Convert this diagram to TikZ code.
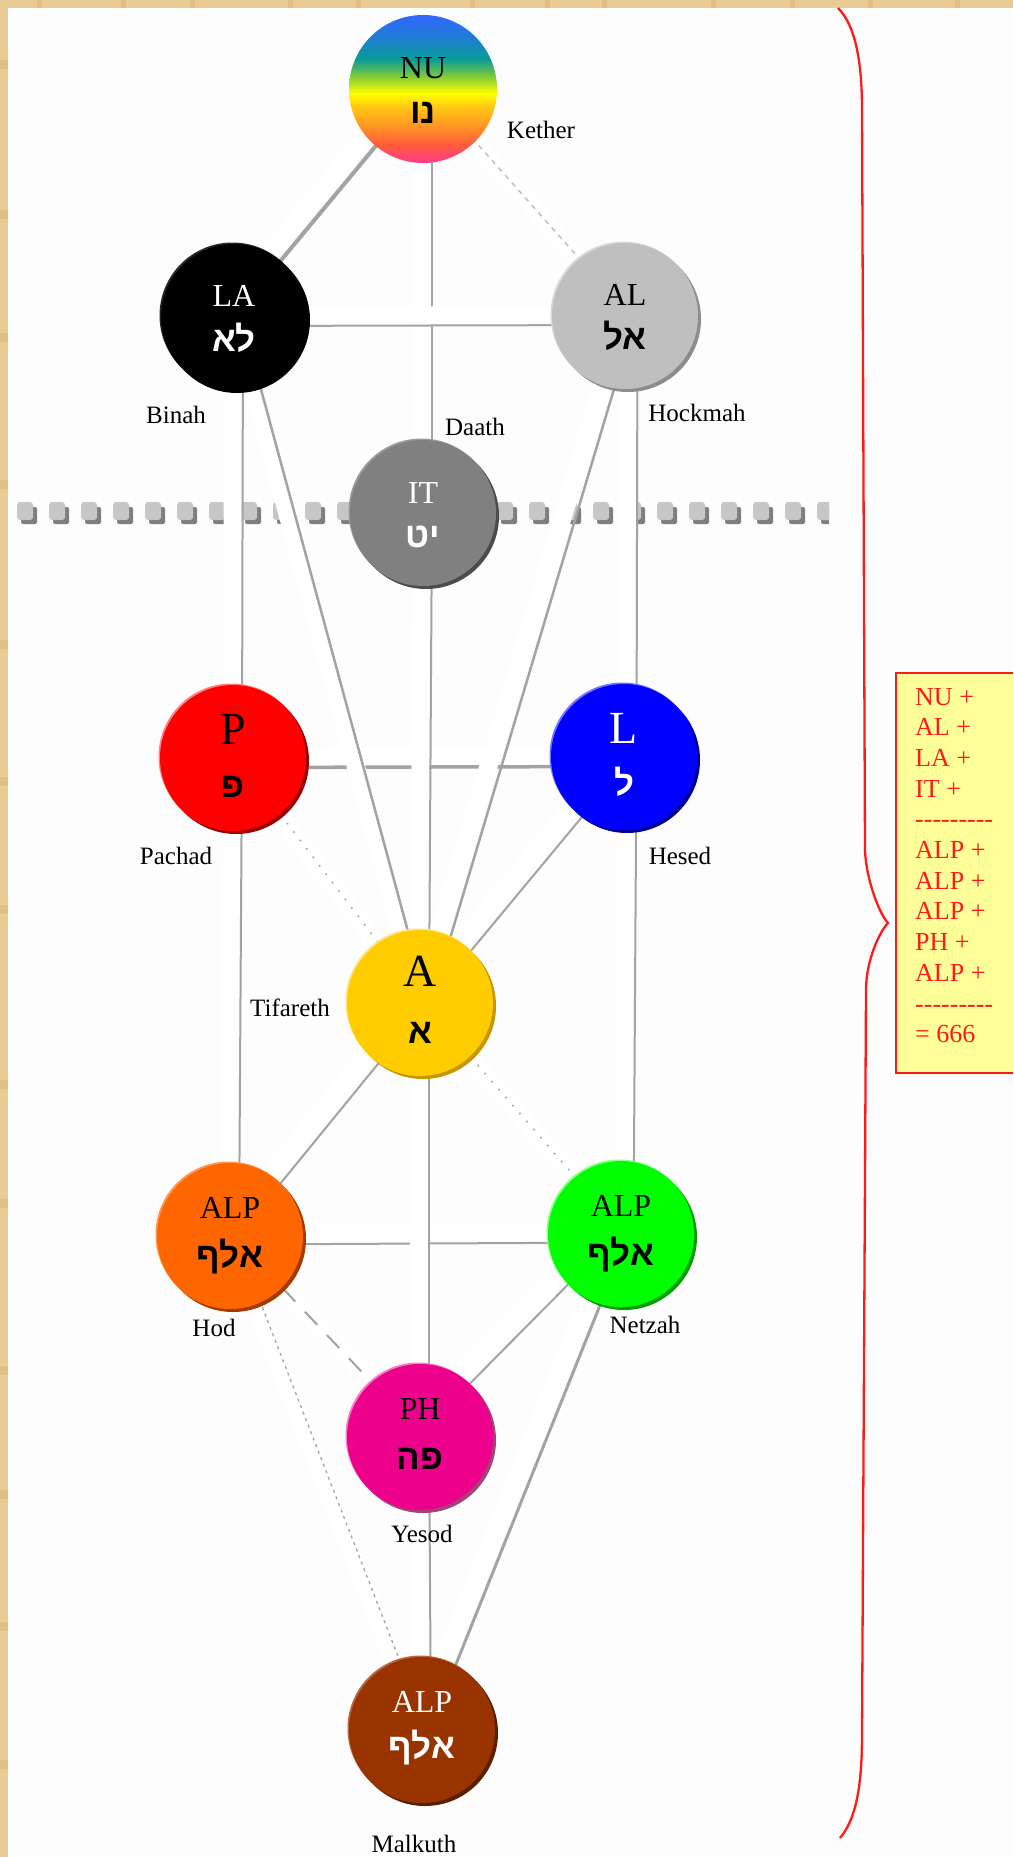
\documentclass[tikz,border=0pt]{standalone}
\usepackage{fontspec}
\setmainfont{Liberation Serif}
\newfontfamily\heb[Script=Hebrew]{Liberation Sans}
\TeXXeTstate=1
\usetikzlibrary{shadows}
\pgfdeclarelayer{bg}
\pgfsetlayers{bg,main}
\definecolor{bgc}{HTML}{FDFDFD}
\definecolor{tanc}{HTML}{E8CC94}
\definecolor{tand}{HTML}{DFC083}
\definecolor{lg}{HTML}{A3A3A3}
\definecolor{sqc}{HTML}{C6C6C6}
\definecolor{sqd}{HTML}{7E7E7E}
\definecolor{boxy}{HTML}{FFFF99}
\definecolor{rd}{HTML}{FF1A1A}
\definecolor{kpink}{HTML}{FF3C8C}
\definecolor{kred}{HTML}{FF5A3C}
\definecolor{korange}{HTML}{FF9922}
\definecolor{kyo}{HTML}{FFCC11}
\definecolor{kyellow}{HTML}{FFFF00}
\definecolor{kgreen}{HTML}{88CC33}
\definecolor{kteal}{HTML}{0A9C96}
\definecolor{kmid}{HTML}{1C7FD0}
\definecolor{kblue}{HTML}{3366FF}
\definecolor{tif}{HTML}{FFCC00}
\definecolor{tifd}{HTML}{C89600}
\definecolor{tifl}{HTML}{FFE480}
\definecolor{hodc}{HTML}{FF6600}
\definecolor{hodd}{HTML}{A33A00}
\definecolor{hodl}{HTML}{FF9955}
\definecolor{mal}{HTML}{993300}
\definecolor{mald}{HTML}{5C1E00}
\definecolor{mall}{HTML}{B86640}
\pgfdeclareverticalshading{rainbow}{100bp}{color(0bp)=(kpink); color(25bp)=(kpink); color(31bp)=(kred); color(38bp)=(korange); color(44.5bp)=(kyo); color(48.5bp)=(kyellow); color(54bp)=(kgreen); color(60bp)=(kteal); color(67bp)=(kmid); color(75bp)=(kblue); color(100bp)=(kblue)}
% \link[style]{from}{to}{canvas shift}
\newcommand\link[4][]{%
  \draw[halo, transform canvas={#4,xshift=-10pt,yshift=10pt}] (#2.center) -- (#3.center);
  \draw[conn,#1, transform canvas={#4}] (#2.center) -- (#3.center);}
\newcommand\dashrow{-{}-{}-{}-{}-{}-{}-{}-{}-}
\begin{document}
\begin{tikzpicture}[x=1pt,y=-1pt,
  sph/.style n args={3}{circle, inner sep=0pt, minimum size=146pt, fill=#1,
     general shadow={shadow xshift=3pt, shadow yshift=-3pt, fill=#2},
     general shadow={shadow xshift=-1.5pt, shadow yshift=1.5pt, fill=#3}},
  lat/.style={anchor=base, inner sep=0pt, font=\fontsize{32}{34}\selectfont},
  latb/.style={anchor=base, inner sep=0pt, font=\fontsize{46}{48}\selectfont},
  hb/.style={anchor=base, inner sep=0pt, font=\heb\bfseries\fontsize{35}{38}\selectfont},
  lab/.style={inner sep=0pt, font=\fontsize{25}{27}\selectfont},
  sumtxt/.style={anchor=base west, inner sep=0pt, text=rd, font=\fontsize{26}{28}\selectfont},
  conn/.style={draw=lg, line width=2pt},
  halo/.style={draw=white, line width=18pt},
  dotl/.style={line width=1.6pt, dash pattern=on 1.6pt off 9pt},
  dashl/.style={draw=lg!70, line width=1.5pt, dash pattern=on 5pt off 5pt}
]
\useasboundingbox (0,0) rectangle (1013,1857);
\clip (0,0) rectangle (1013,1857);

% spheres
\node[circle, inner sep=0pt, minimum size=148pt, shade, shading=rainbow] (kether) at (423,89) {};
\node[sph={black}{black}{black!85}] (binah) at (234,317) {};
\node[sph={black!25}{black!45}{black!15}] (hockmah) at (625,316) {};
\node[sph={black!50}{black!70}{black!40}] (daath) at (423,513) {};
\node[sph={red}{red!60!black}{red!50!white}] (pachad) at (233,758) {};
\node[sph={blue}{blue!60!black}{blue!55!white}] (hesed) at (624,757) {};
\node[sph={tif}{tifd}{tifl}] (tifareth) at (420,1003) {};
\node[sph={hodc}{hodd}{hodl}] (hod) at (230,1236) {};
\node[sph={green}{green!62!black}{green!45!white}] (netzah) at (621,1234) {};
\node[sph={magenta}{magenta!62!black}{magenta!50!white}] (yesod) at (420,1437) {};
\node[sph={mal}{mald}{mall}] (malkuth) at (422,1730) {};

% sphere texts
\node[lat] (ketherL) at (423,79) {NU};
\node[hb] (ketherH) at (423,124) {\beginR נו\endR};
\node[lat,text=white] (binahL) at (234,306) {LA};
\node[hb,text=white] (binahH) at (234,351) {\beginR לא\endR};
\node[lat] (hockmahL) at (625,305) {AL};
\node[hb] (hockmahH) at (625,349) {\beginR אל\endR};
\node[lat,text=white] (daathL) at (423,503) {IT};
\node[hb,text=white] (daathH) at (423,547) {\beginR יט\endR};
\node[latb] (pachadL) at (233,744) {P};
\node[hb] (pachadH) at (233,797) {\beginR פ\endR};
\node[latb,text=white] (hesedL) at (624,743) {L};
\node[hb,text=white] (hesedH) at (624,795) {\beginR ל\endR};
\node[latb] (tifarethL) at (420,986) {A};
\node[hb] (tifarethH) at (420,1043) {\beginR א\endR};
\node[lat] (hodL) at (230,1218) {ALP};
\node[hb] (hodH) at (230,1267) {\beginR אלף\endR};
\node[lat] (netzahL) at (621,1216) {ALP};
\node[hb] (netzahH) at (621,1265) {\beginR אלף\endR};
\node[lat] (yesodL) at (420,1419) {PH};
\node[hb] (yesodH) at (420,1469) {\beginR פה\endR};
\node[lat,text=white] (malkuthL) at (422,1712) {ALP};
\node[hb,text=white] (malkuthH) at (422,1758) {\beginR אלף\endR};

% names
\node[lab] (nKether) at (541,130) {Kether};
\node[lab] (nBinah) at (176,415) {Binah};
\node[lab] (nDaath) at (475,427) {Daath};
\node[lab] (nHockmah) at (697,413) {Hockmah};
\node[lab] (nPachad) at (176,856) {Pachad};
\node[lab] (nHesed) at (680,856) {Hesed};
\node[lab] (nTifareth) at (290,1008) {Tifareth};
\node[lab] (nHod) at (214,1328) {Hod};
\node[lab] (nNetzah) at (645,1325) {Netzah};
\node[lab] (nYesod) at (422,1534) {Yesod};
\node[lab] (nMalkuth) at (414,1844) {Malkuth};

% sum box and brace
\draw[rd, line width=2pt, fill=boxy] (896,673) rectangle (1030,1073);
\node[sumtxt] (s0) at (915,705) {NU +};
\node[sumtxt] (s1) at (915,735.7) {AL +};
\node[sumtxt] (s2) at (915,766.4) {LA +};
\node[sumtxt] (s3) at (915,797.1) {IT +};
\node[sumtxt] (s4) at (915,827.8) {\dashrow};
\node[sumtxt] (s5) at (915,858.5) {ALP +};
\node[sumtxt] (s6) at (915,889.2) {ALP +};
\node[sumtxt] (s7) at (915,919.9) {ALP +};
\node[sumtxt] (s8) at (915,950.6) {PH +};
\node[sumtxt] (s9) at (915,981.3) {ALP +};
\node[sumtxt] (s10) at (915,1012) {\dashrow};
\node[sumtxt] (s11) at (915,1042.7) {= 666};
\draw[rd, line width=2.3pt] (838,8) .. controls (855,25) and (862,60) .. (862,110)
  -- (865,850) .. controls (866,880) and (880,915) .. (888,923)
  .. controls (880,931) and (866,960) .. (866,990)
  -- (862,1735) .. controls (862,1790) and (855,1820) .. (840,1838);

\begin{pgfonlayer}{bg}
  \fill[bgc] (0,0) rectangle (1013,1857);
  \fill[tanc] (0,0) rectangle (1013,8);
  \fill[tanc] (0,0) rectangle (8,1857);
  \foreach \t in {37,121,190,288,356,470,545,602,711,790,868,955}{
    \fill[tand] (\t,0) rectangle ++(5,8);
  }
  \foreach \t in {60,210,333,480,640,777,905,1080,1199,1366,1490,1622,1760}{
    \fill[tand] (0,\t) rectangle ++(8,9);
  }
  \begin{scope}
    \clip (0,490) rectangle (829,540);
    \foreach \k in {0,...,25}{
      \fill[sqd, rounded corners=2pt] ({21+32*\k},507) rectangle ++(16,17);
      \fill[sqc, rounded corners=3pt] ({17+32*\k},502) rectangle ++(16,18);
    }
  \end{scope}
  \link{kether}{daath}{xshift=9pt,yshift=-6pt}
  \link[line width=4pt]{kether}{binah}{xshift=0pt}
  \link[dashl]{kether}{hockmah}{xshift=9pt,yshift=-4pt}
  \link{binah}{hockmah}{yshift=-9pt}
  \link{binah}{pachad}{xshift=9pt}
  \link{hockmah}{hesed}{xshift=12.5pt}
  \link[line width=3.5pt]{pachad}{hesed}{yshift=-9.5pt}
  \link[line width=2.5pt]{binah}{tifareth}{xshift=9pt,yshift=-6pt}
  \link{daath}{tifareth}{xshift=9pt}
  \link[line width=2.5pt]{hockmah}{tifareth}{xshift=9pt,yshift=-6pt}
  \link[dotl]{pachad}{tifareth}{xshift=9pt,yshift=-6pt}
  \link{hesed}{tifareth}{xshift=6pt,yshift=-2pt}
  \link{pachad}{hod}{xshift=9pt}
  \link{hesed}{netzah}{xshift=12.5pt}
  \link{tifareth}{hod}{xshift=6pt,yshift=-2pt}
  \link[dotl]{tifareth}{netzah}{xshift=9pt,yshift=-6pt}
  \link{hod}{netzah}{yshift=-8.5pt}
  \link{tifareth}{yesod}{xshift=9pt}
  \link[dash pattern=on 18pt off 14pt]{hod}{yesod}{xshift=9pt,yshift=-6pt}
  \link{netzah}{yesod}{xshift=0pt,yshift=3pt}
  \link{yesod}{malkuth}{xshift=9pt}
  \link[dotl,line width=1.3pt,dash pattern=on 3pt off 4pt]{hod}{malkuth}{xshift=7pt,yshift=-6pt}
  \link[line width=3pt]{netzah}{malkuth}{xshift=6pt,yshift=-4pt}
\end{pgfonlayer}
\end{tikzpicture}
\end{document}
